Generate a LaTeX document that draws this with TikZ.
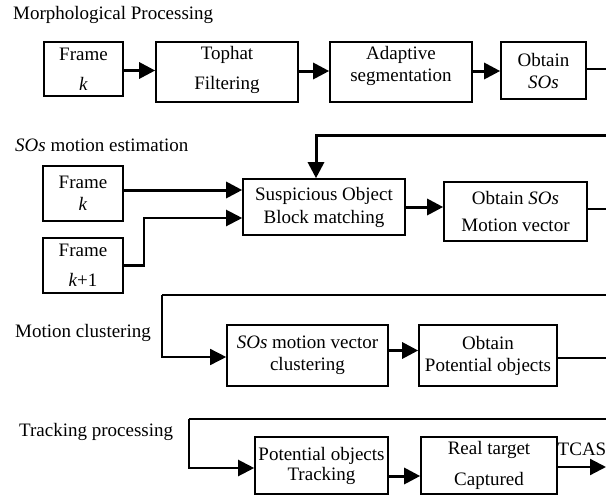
\documentclass[tikz,border=0pt]{standalone}
\usepackage{fontspec}
\setmainfont{Liberation Serif}
\usetikzlibrary{arrows.meta}
\begin{document}
\begin{tikzpicture}[x=1pt,y=-1pt,
  txt/.style={font=\fontsize{19}{22}\selectfont, inner sep=0pt},
  box/.style={draw, line width=1.6pt, align=center, txt},
  title/.style={txt, anchor=west},
  head/.style={-{Triangle[length=16pt,width=16pt]}},
  bold/.style={line width=3pt, head},
  mid/.style={line width=2.2pt, head},
  thin/.style={line width=1.5pt, head},
  feed/.style={line width=2pt},
  feedthin/.style={line width=1.5pt}]
\useasboundingbox (0,0) rectangle (606,496);

% ---- Morphological processing
\node[title] (t1) at (13,15) {Morphological Processing};
\node[box, minimum width=79pt, minimum height=54pt] (f1) at (83.5,69) {Frame\\[8pt]\textit{k}};
\node[box, minimum width=142pt, minimum height=60pt] (top) at (227,72) {};
\node[txt, align=center] (toptxt) at (227,70) {Tophat\\[8pt]Filtering};
\node[box, minimum width=142pt, minimum height=60pt] (ada) at (401,72) {};
\node[txt, align=center] (adatxt) at (401,66) {Adaptive\\segmentation};
\node[box, minimum width=85pt, minimum height=57pt] (obt) at (543.5,70.5) {Obtain\\\textit{SOs}};
\draw[bold] ([yshift=-1.5pt]f1.east) -- ([yshift=-1.5pt]f1.east -| top.west);
\draw[bold] ([yshift=1pt]top.east) -- ([yshift=1pt]top.east -| ada.west);
\draw[bold] ([yshift=1pt]ada.east) -- ([yshift=1pt]ada.east -| obt.west);
\coordinate (o1) at (606,69);
\draw[feed] (obt.east |- o1) -- (o1);

% ---- SOs motion estimation
\node[title] (t2) at (15,145) {\textit{SOs} motion estimation};
\node[box, minimum width=80pt, minimum height=55pt] (fk) at (83,193.5) {Frame\\\textit{k}};
\node[box, minimum width=80pt, minimum height=55pt] (fk1) at (83,265.5) {Frame\\[8pt]\textit{k}+1};
\node[box, minimum width=162pt, minimum height=56pt] (sobm) at (324,207) {Suspicious Object\\[1pt]Block matching};
\node[box, minimum width=143pt, minimum height=59pt] (omv) at (515.5,211.5) {Obtain \textit{SOs}\\[5pt]Motion vector};
\coordinate (i2) at (606,135);
\draw[bold] (i2) -| ([xshift=-8pt]sobm.north);
\draw[bold] ([yshift=3.5pt]fk.east) -- ([yshift=3.5pt]fk.east -| sobm.west);
\draw[mid] (fk1.east) -- ++(20,0) |- ([yshift=-11pt]sobm.west);
\draw[bold] (sobm.east) -- (sobm.east -| omv.west);
\coordinate (o2) at (606,209);
\draw[feed] (omv.east |- o2) -- (o2);

% ---- Motion clustering
\node[title] (t3) at (15,333) {Motion clustering};
\node[box, minimum width=161pt, minimum height=61pt] (mvc) at (307.5,355.5) {\textit{SOs} motion vector\\clustering};
\node[box, minimum width=138pt, minimum height=61pt] (opo) at (488,355.5) {Obtain\\Potential objects};
\coordinate (i3) at (606,295);
\coordinate (c3) at (162,295);
\draw[feedthin] (i3) -- (c3);
\draw[thin] (c3) |- ([yshift=-1.5pt]mvc.west);
\draw[bold] ([yshift=5pt]mvc.east) -- ([yshift=5pt]mvc.east -| opo.west);
\coordinate (o3) at (606,358);
\draw[feedthin] (opo.east |- o3) -- (o3);

% ---- Tracking processing
\node[title] (t4) at (19,432) {Tracking processing};
\node[box, minimum width=133pt, minimum height=57pt] (pot) at (321.5,465.5) {Potential objects\\[-2pt]Tracking};
\node[box, minimum width=136pt, minimum height=57pt] (real) at (489,465.5) {Real target\\[9pt]Captured};
\coordinate (i4) at (606,419);
\coordinate (c4) at (189,419);
\draw[feed] (i4) -- (c4);
\draw[mid] (c4) |- ([yshift=-2.5pt]pot.west);
\draw[bold] ([yshift=-10.5pt]pot.east) -- ([yshift=-10.5pt]pot.east -| real.west);
\coordinate (o4) at (606,467);
\draw[mid] (real.east |- o4) -- (o4);
\node[txt] (tcas) at (582,449) {TCAS};
\end{tikzpicture}
\end{document}
